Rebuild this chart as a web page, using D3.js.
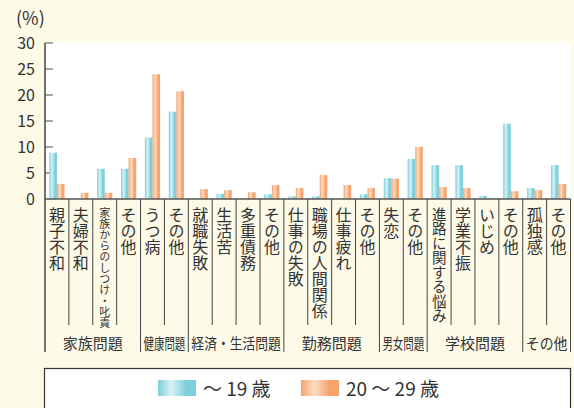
<!DOCTYPE html>
<html>
<head>
<meta charset="utf-8">
<script src="https://cdn.jsdelivr.net/npm/d3@7"></script>
<style>
  body { margin: 0; background: #fefae8; }
  text { font-family: "Noto Sans CJK JP", "Noto Sans", sans-serif; fill: #333; }
</style>
</head>
<body>
<div id="chart"></div>
<script>
// 若年層の自殺の原因・動機（年齢別）
const categories = ["親子不和", "夫婦不和", "家族からのしつけ・叱責", "その他",
  "うつ病", "その他",
  "就職失敗", "生活苦", "多重債務", "その他",
  "仕事の失敗", "職場の人間関係", "仕事疲れ", "その他",
  "失恋", "その他",
  "進路に関する悩み", "学業不振", "いじめ", "その他",
  "孤独感", "その他"];
const under19 = [8.9, 0, 5.8, 5.8, 11.8, 16.8, 0, 1.0, 0, 0.9, 0.5, 0.5, 0, 0.9,
  4.0, 7.7, 6.5, 6.5, 0.6, 14.5, 2.1, 6.5];
const age20s = [2.9, 1.2, 1.2, 7.9, 24.0, 20.7, 1.9, 1.7, 1.3, 2.7, 2.1, 4.6, 2.7, 2.1,
  3.9, 10.0, 2.3, 2.1, 0, 1.5, 1.7, 2.9];
const groups = ["家族問題", "健康問題", "経済・生活問題", "勤務問題", "男女問題", "学校問題", "その他"];
const groupSizes = [4, 2, 4, 4, 2, 4, 2];
const yTicks = [0, 5, 10, 15, 20, 25, 30];
const seriesNames = ["～ 19 歳", "20 ～ 29 歳"];

const W = 574, H = 408;
const plotL = 45, plotR = 570.5, plotT = 43, plotB = 199;

const svg = d3.select("#chart").append("svg")
  .attr("width", W)
  .attr("height", H);

const defs = svg.append("defs");
function grad(id, edge, light) {
  const g = defs.append("linearGradient").attr("id", id)
    .attr("x1", "0%").attr("x2", "100%").attr("y1", "0%").attr("y2", "0%");
  g.append("stop").attr("offset", "0%").attr("stop-color", edge);
  g.append("stop").attr("offset", "35%").attr("stop-color", light);
  g.append("stop").attr("offset", "75%").attr("stop-color", edge);
  g.append("stop").attr("offset", "100%").attr("stop-color", edge);
}
grad("gBlue", "#7ccfdb", "#d8f1f4");
grad("gOrange", "#f6a46f", "#fddcc2");

const x = d3.scaleBand().domain(d3.range(categories.length)).range([plotL, plotR]);
const y = d3.scaleLinear().domain([0, 30]).range([plotB, plotT]);

// plot area
svg.append("rect")
  .attr("x", plotL).attr("y", plotT)
  .attr("width", plotR - plotL).attr("height", plotB - plotT)
  .attr("fill", "#fff");

// tick marks (inside)
svg.selectAll(".tick-mark")
  .data(yTicks.slice(1))
  .enter()
  .append("line")
  .attr("x1", plotL).attr("x2", plotL + 8)
  .attr("y1", d => y(d)).attr("y2", d => y(d))
  .attr("stroke", "#888").attr("stroke-width", 1.5);

svg.selectAll(".tick-label")
  .data(yTicks)
  .enter()
  .append("text")
  .attr("x", 35)
  .attr("y", d => y(d))
  .attr("dy", "0.36em")
  .attr("text-anchor", "end")
  .style("font-size", "16px")
  .text(d => d);

svg.append("text")
  .attr("x", 16).attr("y", 25)
  .style("font-size", "18px")
  .text("(%)");

// bars
const bw = 7.6;
const barData = [];
categories.forEach((c, i) => {
  barData.push({i, v: under19[i], s: 0});
  barData.push({i, v: age20s[i], s: 1});
});
svg.selectAll(".bar")
  .data(barData.filter(d => d.v > 0))
  .enter()
  .append("rect")
  .attr("class", "bar")
  .attr("x", d => x(d.i) + x.bandwidth() / 2 - bw + d.s * bw)
  .attr("y", d => y(d.v))
  .attr("width", bw)
  .attr("height", d => plotB - y(d.v))
  .attr("fill", d => d.s === 0 ? "url(#gBlue)" : "url(#gOrange)");

// baseline
svg.append("line")
  .attr("x1", plotL).attr("x2", plotR)
  .attr("y1", plotB).attr("y2", plotB)
  .attr("stroke", "#555").attr("stroke-width", 1.5);

// group boundaries
const bounds = [0];
groupSizes.forEach(n => bounds.push(bounds[bounds.length - 1] + n));
const xEdge = i => i < categories.length ? x(i) : plotR;

// category separators
svg.selectAll(".cat-sep")
  .data(d3.range(1, categories.length).filter(i => !bounds.includes(i)))
  .enter()
  .append("line")
  .attr("x1", d => xEdge(d)).attr("x2", d => xEdge(d))
  .attr("y1", plotB).attr("y2", 325)
  .attr("stroke", "#444").attr("stroke-width", 1);

svg.selectAll(".grp-sep")
  .data(bounds)
  .enter()
  .append("line")
  .attr("x1", d => xEdge(d)).attr("x2", d => xEdge(d))
  .attr("y1", (d, i) => i === 0 ? plotT : plotB).attr("y2", 352)
  .attr("stroke", "#444").attr("stroke-width", d => d === 0 ? 1.5 : 1);

// category labels, vertical
const labelSize = c => c.length >= 10 ? 11 : c.length === 8 ? 14.5 : 16;
svg.selectAll(".cat-label")
  .data(categories)
  .enter()
  .append("text")
  .attr("class", "cat-label")
  .attr("x", (d, i) => x(i) + x.bandwidth() / 2)
  .attr("y", 207)
  .style("writing-mode", "vertical-rl")
  .style("text-orientation", "upright")
  .style("font-size", d => labelSize(d) + "px")
  .text(d => d);

// group labels, squeezed horizontally where the group is narrow
svg.selectAll(".grp-label")
  .data(groups)
  .enter()
  .append("text")
  .attr("text-anchor", "middle")
  .style("font-size", "15px")
  .text(d => d)
  .each(function(d, i) {
    const cx = (xEdge(bounds[i]) + xEdge(bounds[i + 1])) / 2;
    const w = xEdge(bounds[i + 1]) - xEdge(bounds[i]) - 6;
    const len = this.getComputedTextLength();
    const sx = len > w ? w / len : 1;
    d3.select(this).attr("transform", `translate(${cx},349) scale(${sx},1)`);
  });

// legend
svg.append("rect")
  .attr("x", 44.5).attr("y", 368.5)
  .attr("width", 526).attr("height", 60)
  .attr("fill", "#fff")
  .attr("stroke", "#333").attr("stroke-width", 1.2);

const legendItems = [
  {x: 158, fill: "url(#gBlue)", label: seriesNames[0]},
  {x: 301, fill: "url(#gOrange)", label: seriesNames[1]}
];
const lg = svg.selectAll(".legend")
  .data(legendItems)
  .enter()
  .append("g")
  .attr("transform", d => `translate(${d.x},380)`);
lg.append("rect")
  .attr("width", 38).attr("height", 16)
  .attr("fill", d => d.fill);
lg.append("text")
  .attr("x", 45).attr("y", 15.5)
  .style("font-size", "19px")
  .text(d => d.label);
</script>
</body>
</html>
